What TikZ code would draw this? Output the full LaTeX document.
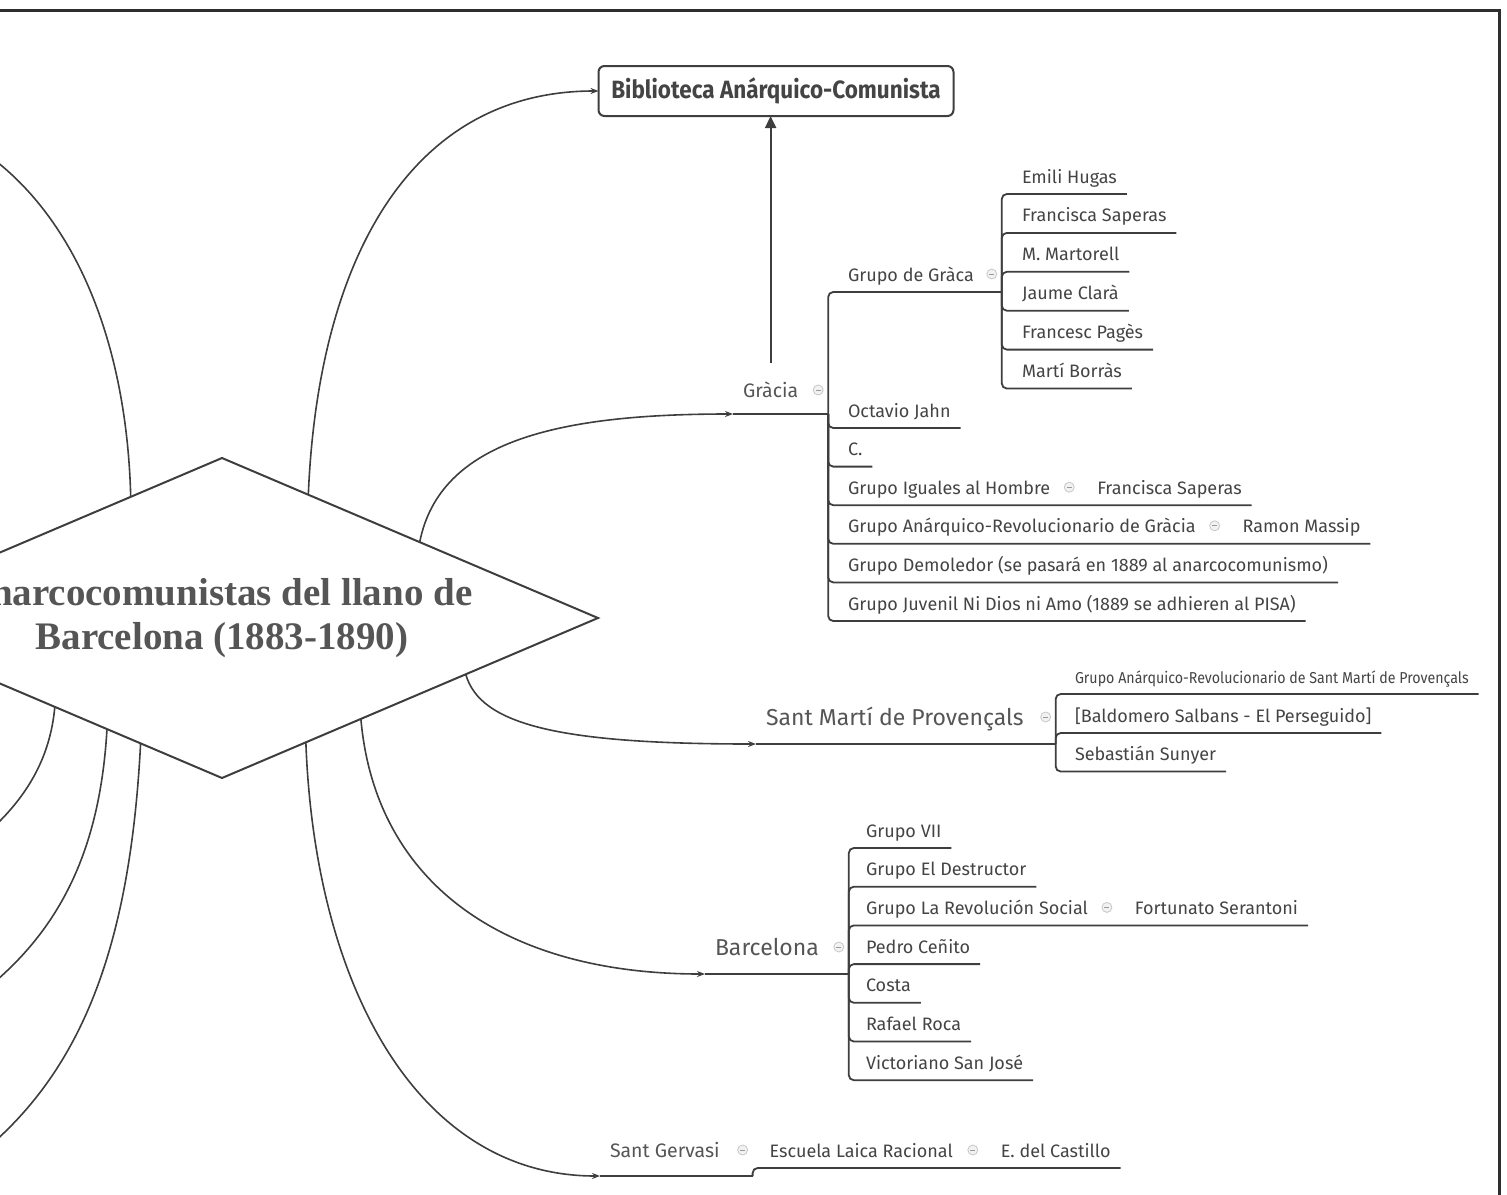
\documentclass[tikz,border=0pt]{standalone}
\usepackage{fontspec}
\setmainfont{Fira Sans}
\newfontfamily\serifbold{Liberation Serif}
\newfontfamily\narrowsans[FakeStretch=0.9]{Fira Sans}
\usetikzlibrary{positioning,shapes.geometric,arrows.meta}
\definecolor{ln}{HTML}{3E3E3E}
\definecolor{txt}{HTML}{444444}
\definecolor{areatxt}{HTML}{555555}
\definecolor{frm}{HTML}{2E2E2E}

\begin{document}
\begin{tikzpicture}
[x=1pt,y=-1pt,
 every node/.style={text=txt,outer sep=0pt},
 main/.style={diamond,draw=ln,line width=2pt,shape aspect=2.35,minimum width=752pt,minimum height=320pt,inner sep=0pt,align=center,text=areatxt,font=\serifbold\bfseries\fontsize{39}{44}\selectfont},
 lib/.style={rectangle,rounded corners=6pt,draw=ln,line width=2pt,minimum width=355pt,minimum height=50pt,inner sep=0pt,font=\narrowsans\bfseries\fontsize{25}{29}\selectfont},
 area/.style={anchor=base west,inner xsep=10pt,inner ysep=0pt,text depth=17pt,text=areatxt,font=\fontsize{19.5}{23}\selectfont},
 bigarea/.style={area,text depth=19pt,font=\fontsize{23}{27}\selectfont},
 topic/.style={anchor=base west,inner xsep=10pt,inner ysep=0pt,text depth=11pt,font=\fontsize{18}{21}\selectfont},
 small/.style={topic,font=\narrowsans\fontsize{15.8}{18}\selectfont},
 fold/.style={anchor=center,circle,draw=black!22,fill=black!5,line width=0.8pt,minimum size=10pt,inner sep=0pt,outer sep=5pt,
   path picture={\draw[black!40,line width=0.8pt] ([xshift=-2.5pt]path picture bounding box.center) -- ([xshift=2.5pt]path picture bounding box.center);}},
 branch/.style={draw=ln,line width=1.8pt,rounded corners=5pt},
 curve/.style={draw=ln,line width=1.6pt,-{Stealth[length=8pt,width=6pt]}},
 free/.style={draw=ln,line width=1.6pt},
 bigarrow/.style={draw=ln,line width=2pt,-{Triangle[length=12pt,width=11pt]}}]
\useasboundingbox (0,0) rectangle (1507,1194);
\draw[line width=3pt,draw=frm] (-5,10.5) -- (1499,10.5) -- (1499,1200);

\node[main] (cnt) at (222,618) {anarcocomunistas del llano de\\Barcelona (1883-1890)};
\node[lib]  (lib) at (776,91)  {Biblioteca Anárquico-Comunista};

% Gracia
\node[area]  (gra)  at (733,397) {Gràcia};
\node (graF) [on grid,above right=7pt and 10pt of gra.base east,fold] {};
\node[topic] (gg)   at (838,281) {Grupo de Gràca};
\node (ggF)  [on grid,above right=7pt and 8pt of gg.base east,fold] {};
\node[topic] (gg1)  at (1012,183) {Emili Hugas};
\node (gg2)  [on grid,below=38.9pt of gg1.base west,topic] {Francisca Saperas};
\node (gg3)  [on grid,below=38.9pt of gg2.base west,topic] {M. Martorell};
\node (gg4)  [on grid,below=38.9pt of gg3.base west,topic] {Jaume Clarà};
\node (gg5)  [on grid,below=38.9pt of gg4.base west,topic] {Francesc Pagès};
\node (gg6)  [on grid,below=38.9pt of gg5.base west,topic] {Martí Borràs};
\node[topic] (gr1)  at (838,417) {Octavio Jahn};
\node (gr2)  [on grid,below=38.6pt of gr1.base west,topic] {C.};
\node (gr3)  [on grid,below=38.6pt of gr2.base west,topic] {Grupo Iguales al Hombre};
\node (gr3F) [on grid,above right=7pt and 9pt of gr3.base east,fold] {};
\node (gr3a) [on grid,below right=7pt and 18pt of gr3F,topic] {Francisca Saperas};
\node (gr4)  [on grid,below=38.6pt of gr3.base west,topic] {Grupo Anárquico-Revolucionario de Gràcia};
\node (gr4F) [on grid,above right=7pt and 9pt of gr4.base east,fold] {};
\node (gr4a) [on grid,below right=7pt and 18pt of gr4F,topic] {Ramon Massip};
\node (gr5)  [on grid,below=38.6pt of gr4.base west,topic] {Grupo Demoledor (se pasará en 1889 al anarcocomunismo)};
\node (gr6)  [on grid,below=38.6pt of gr5.base west,topic] {Grupo Juvenil Ni Dios ni Amo (1889 se adhieren al PISA)};

% Sant Marti
\node[bigarea] (smp)  at (756,725) {Sant Martí de Provençals};
\node (smpF) [on grid,above right=8pt and 12pt of smp.base east,fold] {};
\node[small]   (sm1)  at (1065,683) {Grupo Anárquico-Revolucionario de Sant Martí de Provençals};
\node[topic]   (sm2)  at (1065,722) {[Baldomero Salbans - El Perseguido]};
\node (sm3)  [on grid,below=38.5pt of sm2.base west,topic] {Sebastián Sunyer};

% Barcelona
\node[bigarea] (bcn)  at (705,955) {Barcelona};
\node (bcnF) [on grid,above right=8pt and 10pt of bcn.base east,fold] {};
\node[topic]   (bc1)  at (856,837) {Grupo VII};
\node (bc2)  [on grid,below=38.7pt of bc1.base west,topic] {Grupo El Destructor};
\node (bc3)  [on grid,below=38.7pt of bc2.base west,topic] {Grupo La Revolución Social};
\node (bc3F) [on grid,above right=7pt and 9pt of bc3.base east,fold] {};
\node (bc3a) [on grid,below right=7pt and 18pt of bc3F,topic] {Fortunato Serantoni};
\node (bc4)  [on grid,below=38.7pt of bc3.base west,topic] {Pedro Ceñito};
\node (bc5)  [on grid,below=38.7pt of bc4.base west,topic] {Costa};
\node (bc6)  [on grid,below=38.7pt of bc5.base west,topic] {Rafael Roca};
\node (bc7)  [on grid,below=38.7pt of bc6.base west,topic] {Victoriano San José};

% Sant Gervasi
\node[area,text depth=19pt] (sgv) at (600,1157) {Sant Gervasi};
\node (sgvF) [on grid,above right=7pt and 13pt of sgv.base east,fold] {};
\node (esc)  [on grid,below right=7pt and 17pt of sgvF,topic] {Escuela Laica Racional};
\node (escF) [on grid,above right=7pt and 10pt of esc.base east,fold] {};
\node (cas)  [on grid,below right=7pt and 18pt of escF,topic] {E. del Castillo};

% loose ends on the left
\coordinate (ul)  at (-8,158);
\coordinate (ll1) at (-15,835);
\coordinate (ll2) at (-15,990);
\coordinate (ll3) at (-15,1150);

\path[free]  (cnt.127) .. controls (127,350) and (80,225) .. (ul);
\path[free]  (cnt.208) .. controls (50,760) and (25,800) .. (ll1);
\path[free]  (cnt.224) .. controls (100,850) and (60,930) .. (ll2);
\path[free]  (cnt.237) .. controls (130,950) and (80,1070) .. (ll3);

\path[curve] (cnt.55)  .. controls (318,260) and (410,91) .. (lib.west);
\path[bigarrow] ([yshift=18pt]gra.north) -- (gra.north |- lib.south);
\path[curve] (cnt.21)  .. controls (440,440) and (560,414) .. (gra.south west);
\path[curve] (cnt.-13) .. controls (480,725) and (560,744) .. (smp.south west);
\path[curve] (cnt.-36) .. controls (375,880) and (500,974) .. (bcn.south west);
\path[curve] (cnt.-56) .. controls (315,990) and (420,1176) .. (sgv.south west);

\path[branch] (gra.south west) -- (graF.east |- gra.south);
\path[branch] (graF.east |- gra.south) |- (ggF.east |- gg.south);
\path[branch] (graF.east |- gra.south) |- (gr1.south east);
\path[branch] (graF.east |- gra.south) |- (gr2.south east);
\path[branch] (graF.east |- gra.south) |- (gr3F.east |- gr3.south) -- (gr3a.south east);
\path[branch] (graF.east |- gra.south) |- (gr4F.east |- gr4.south) -- (gr4a.south east);
\path[branch] (graF.east |- gra.south) |- (gr5.south east);
\path[branch] (graF.east |- gra.south) |- (gr6.south east);
\path[branch] (ggF.east |- gg.south) |- (gg1.south east);
\path[branch] (ggF.east |- gg.south) |- (gg2.south east);
\path[branch] (ggF.east |- gg.south) |- (gg3.south east);
\path[branch] (ggF.east |- gg.south) |- (gg4.south east);
\path[branch] (ggF.east |- gg.south) |- (gg5.south east);
\path[branch] (ggF.east |- gg.south) |- (gg6.south east);

\path[branch] (smp.south west) -- (smpF.east |- smp.south);
\path[branch] (smpF.east |- smp.south) |- (sm1.south east);
\path[branch] (smpF.east |- smp.south) |- (sm2.south east);
\path[branch] (smpF.east |- smp.south) |- (sm3.south east);

\path[branch] (bcn.south west) -- (bcnF.east |- bcn.south);
\path[branch] (bcnF.east |- bcn.south) |- (bc1.south east);
\path[branch] (bcnF.east |- bcn.south) |- (bc2.south east);
\path[branch] (bcnF.east |- bcn.south) |- (bc3F.east |- bc3.south) -- (bc3a.south east);
\path[branch] (bcnF.east |- bcn.south) |- (bc4.south east);
\path[branch] (bcnF.east |- bcn.south) |- (bc5.south east);
\path[branch] (bcnF.east |- bcn.south) |- (bc6.south east);
\path[branch] (bcnF.east |- bcn.south) |- (bc7.south east);

\path[branch] (sgv.south west) -- (sgvF.east |- sgv.south);
\path[branch] (sgvF.east |- sgv.south) |- (escF.east |- esc.south) -- (cas.south east);
\end{tikzpicture}
\end{document}
